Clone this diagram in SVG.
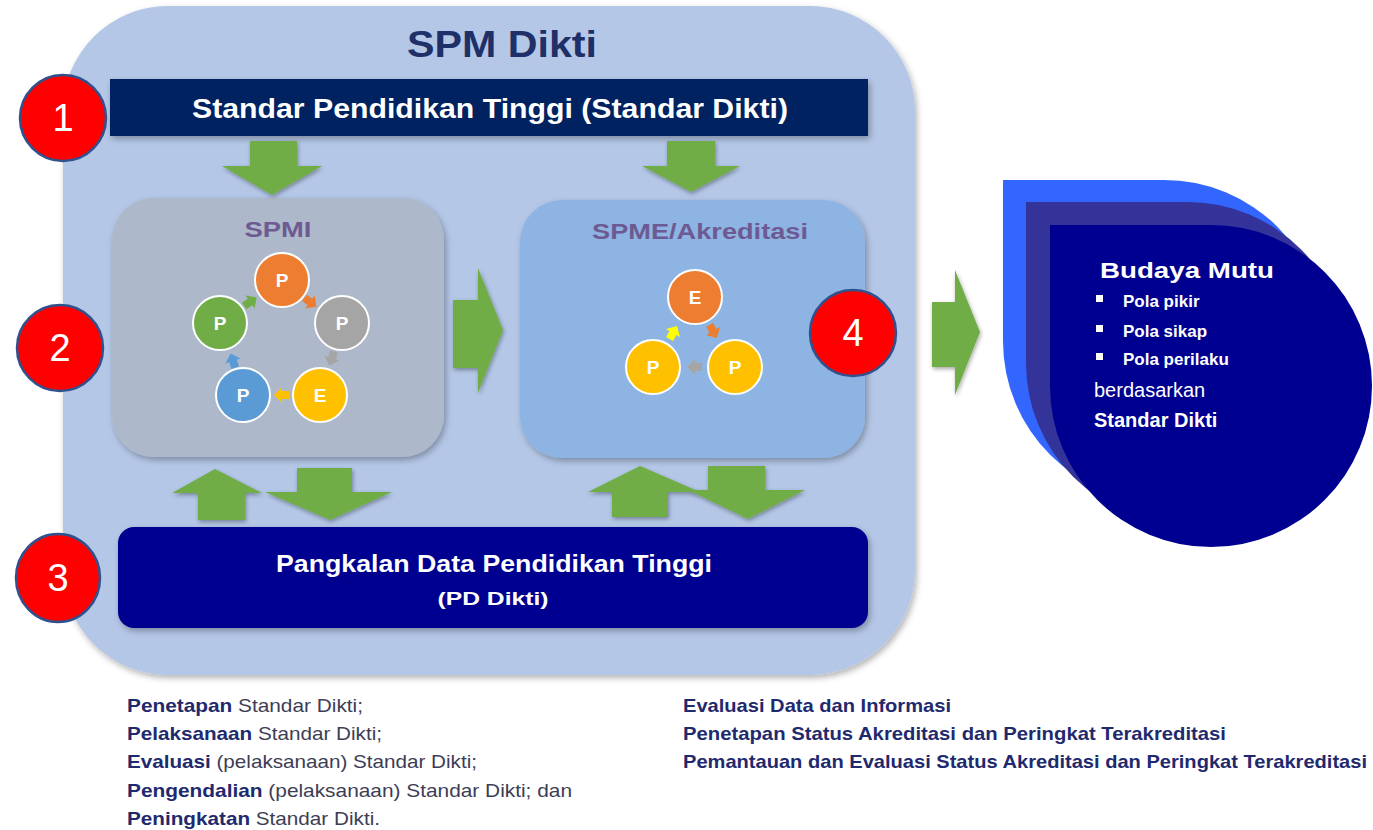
<svg xmlns="http://www.w3.org/2000/svg" width="1373" height="830" viewBox="0 0 1373 830">
<defs>
<filter id="sh" x="-10%" y="-10%" width="130%" height="130%"><feDropShadow dx="2" dy="3" stdDeviation="3" flood-color="#000" flood-opacity="0.3"/></filter>
<filter id="sh2" x="-20%" y="-20%" width="150%" height="150%"><feDropShadow dx="1" dy="2" stdDeviation="2" flood-color="#000" flood-opacity="0.35"/></filter>
<polygon id="sa" points="-7,-4 0,-4 0,-8 8,0 0,8 0,4 -7,4"/>
<style>
text{font-family:"Liberation Sans",Arial,sans-serif}
.num{fill:#fff;font-size:38px;text-anchor:middle}
.badge{fill:#ff0000;stroke:#2f528f;stroke-width:2.5}
.ga{fill:#70ad47;filter:url(#sh2)}
.cir{stroke:#fff;stroke-width:2}
.cl{fill:#fff;font-size:19px;font-weight:bold;text-anchor:middle}
.bt{fill:#fff;font-weight:bold}
.ln{font-size:18.5px;fill:#3d3d55}
.ln tspan.k{fill:#1f2a6e;font-weight:bold}
.rl{font-size:18.5px;fill:#1f2a6e;font-weight:bold}
</style>
</defs>
<rect width="1373" height="830" fill="#fff"/>

<g id="spm-dikti">
<rect x="63" y="6" width="852" height="669" rx="105" ry="105" fill="#b4c7e7" filter="url(#sh)"/>
<text x="502" y="57" font-size="36" font-weight="bold" fill="#1f3068" text-anchor="middle" textLength="190" lengthAdjust="spacingAndGlyphs">SPM Dikti</text>
</g>

<g id="standar-dikti">
<rect x="110" y="79" width="758" height="57" fill="#002060" filter="url(#sh)"/>
<text x="490" y="118" font-size="27" class="bt" text-anchor="middle" textLength="596" lengthAdjust="spacingAndGlyphs">Standar Pendidikan Tinggi (Standar Dikti)</text>
</g>

<g id="spmi">
<rect x="112" y="198" width="332" height="259" rx="42" fill="#adb9ca" filter="url(#sh)"/>
<text x="278" y="237" font-size="22" font-weight="bold" fill="#6d5a92" text-anchor="middle" textLength="67" lengthAdjust="spacingAndGlyphs">SPMI</text>
<circle class="cir" cx="282" cy="280" r="27" fill="#ed7d31"/><text class="cl" x="282" y="287">P</text>
<circle class="cir" cx="342" cy="323" r="27" fill="#a5a5a5"/><text class="cl" x="342" y="330">P</text>
<circle class="cir" cx="220" cy="323" r="27" fill="#70ad47"/><text class="cl" x="220" y="330">P</text>
<circle class="cir" cx="243" cy="395" r="27" fill="#5b9bd5"/><text class="cl" x="243" y="402">P</text>
<circle class="cir" cx="320" cy="395" r="27" fill="#ffc000"/><text class="cl" x="320" y="402">E</text>
<use href="#sa" fill="#ed7d31" transform="translate(310,302) rotate(36)"/>
<use href="#sa" fill="#a5a5a5" transform="translate(332,358) rotate(107)"/>
<use href="#sa" fill="#ffc000" transform="translate(282,395) rotate(180)"/>
<use href="#sa" fill="#5b9bd5" transform="translate(233,361) rotate(-108)"/>
<use href="#sa" fill="#70ad47" transform="translate(250,302) rotate(-35)"/>
</g>

<g id="spme">
<rect x="520" y="200" width="345" height="258" rx="42" fill="#8eb4e3" filter="url(#sh)"/>
<text x="700" y="239" font-size="22" font-weight="bold" fill="#6d5a92" text-anchor="middle" textLength="216" lengthAdjust="spacingAndGlyphs">SPME/Akreditasi</text>
<circle class="cir" cx="695" cy="297" r="27" fill="#ed7d31"/><text class="cl" x="695" y="304">E</text>
<circle class="cir" cx="653" cy="367" r="27" fill="#ffc000"/><text class="cl" x="653" y="374">P</text>
<circle class="cir" cx="735" cy="367" r="27" fill="#ffc000"/><text class="cl" x="735" y="374">P</text>
<use href="#sa" fill="#ed7d31" transform="translate(713,331) rotate(61)"/>
<use href="#sa" fill="#a5a5a5" transform="translate(695,367) rotate(180)"/>
<use href="#sa" fill="#ffff00" transform="translate(673,333) rotate(-60)"/>
</g>

<g id="pd-dikti">
<rect x="118" y="527" width="750" height="101" rx="16" fill="#000090" filter="url(#sh)"/>
<text x="494" y="572" font-size="24" class="bt" text-anchor="middle" textLength="436" lengthAdjust="spacingAndGlyphs">Pangkalan Data Pendidikan Tinggi</text>
<text x="493" y="605" font-size="19" class="bt" text-anchor="middle" textLength="111" lengthAdjust="spacingAndGlyphs">(PD Dikti)</text>
</g>

<g id="budaya-mutu">
<path d="M1003,180 L1164,180 A161,161 0 1 1 1003,341 Z" fill="#3366ff"/>
<path d="M1026,202 L1187,202 A161,161 0 1 1 1026,363 Z" fill="#333399"/>
<path d="M1050,225 L1211,225 A161,161 0 1 1 1050,386 Z" fill="#000090"/>
<text x="1187" y="278" font-size="22" class="bt" text-anchor="middle" textLength="174" lengthAdjust="spacingAndGlyphs">Budaya Mutu</text>
<rect x="1096" y="295" width="7" height="7" fill="#fff"/>
<text x="1123" y="307" font-size="17" class="bt">Pola pikir</text>
<rect x="1096" y="325" width="7" height="7" fill="#fff"/>
<text x="1123" y="337" font-size="17" class="bt">Pola sikap</text>
<rect x="1096" y="353" width="7" height="7" fill="#fff"/>
<text x="1123" y="365" font-size="17" class="bt">Pola perilaku</text>
<text x="1094" y="397" font-size="20" fill="#fff">berdasarkan</text>
<text x="1094" y="427" font-size="20" class="bt">Standar Dikti</text>
</g>

<g id="badge-1"><circle class="badge" cx="63" cy="118" r="43"/><text class="num" x="63" y="131">1</text></g>
<g id="badge-2"><circle class="badge" cx="60" cy="348" r="43"/><text class="num" x="60" y="361">2</text></g>
<g id="badge-3"><ellipse class="badge" cx="58" cy="578" rx="42" ry="44"/><text class="num" x="58" y="591">3</text></g>
<g id="badge-4"><circle class="badge" cx="853" cy="333" r="43"/><text class="num" x="853" y="346">4</text></g>

<g id="connectors">
<polygon class="ga" points="250,141 297,141 297,166 322,166 272,195 222,166 250,166"/>
<polygon class="ga" points="667,141 715,141 715,166 740,166 691,192 642,166 667,166"/>
<polygon class="ga" points="453,300 478,300 478,268 503,330 478,393 478,368 453,368"/>
<polygon class="ga" points="932,302 955,302 955,270 980,332 955,395 955,367 932,367"/>
<polygon class="ga" points="198,520 198,493 172,493 215,469 262,493 245,493 245,520"/>
<polygon class="ga" points="297,468 352,468 352,492 392,492 330,520 265,492 297,492"/>
<polygon class="ga" points="612,517 612,492 588,492 640,466 700,492 668,492 668,517"/>
<polygon class="ga" points="708,466 765,466 765,490 805,490 748,519 688,490 708,490"/>
</g>

<g id="spmi-notes">
<text class="ln" x="127" y="712" textLength="236" lengthAdjust="spacingAndGlyphs"><tspan class="k">Penetapan</tspan> Standar Dikti;</text>
<text class="ln" x="127" y="740" textLength="255" lengthAdjust="spacingAndGlyphs"><tspan class="k">Pelaksanaan</tspan> Standar Dikti;</text>
<text class="ln" x="127" y="768" textLength="350" lengthAdjust="spacingAndGlyphs"><tspan class="k">Evaluasi</tspan> (pelaksanaan) Standar Dikti;</text>
<text class="ln" x="127" y="797" textLength="445" lengthAdjust="spacingAndGlyphs"><tspan class="k">Pengendalian</tspan> (pelaksanaan) Standar Dikti; dan</text>
<text class="ln" x="127" y="825" textLength="253" lengthAdjust="spacingAndGlyphs"><tspan class="k">Peningkatan</tspan> Standar Dikti.</text>
</g>

<g id="spme-notes">
<text class="rl" x="683" y="712" textLength="268" lengthAdjust="spacingAndGlyphs">Evaluasi Data dan Informasi</text>
<text class="rl" x="683" y="740" textLength="543" lengthAdjust="spacingAndGlyphs">Penetapan Status Akreditasi dan Peringkat Terakreditasi</text>
<text class="rl" x="683" y="768" textLength="684" lengthAdjust="spacingAndGlyphs">Pemantauan dan Evaluasi Status Akreditasi dan Peringkat Terakreditasi</text>
</g>
</svg>
